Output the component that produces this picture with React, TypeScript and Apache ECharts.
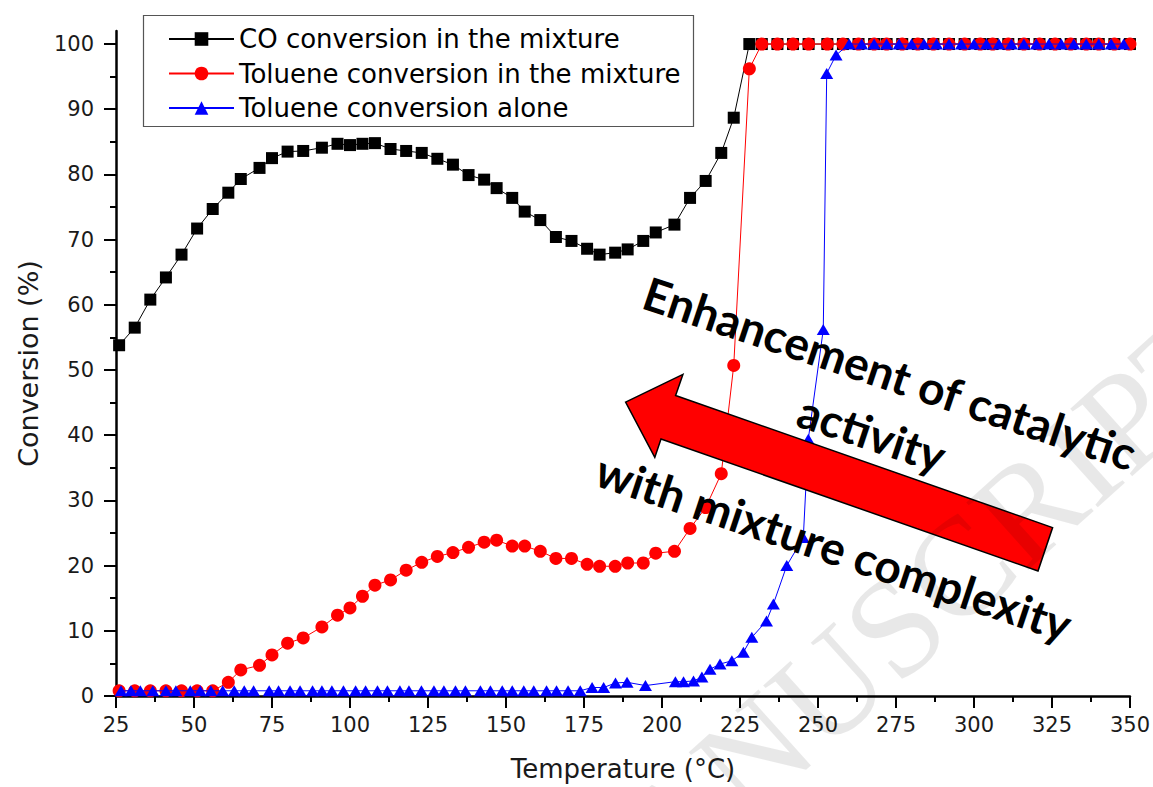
import React, { useEffect, useRef } from "react";
import * as echarts from "echarts";

// ---------------- data ----------------
const mixtureTemperatures = [
  26, 31, 36, 41, 46, 51, 56, 61, 65, 71,
  75, 80, 85, 91, 96, 100, 104, 108, 113, 118,
  123, 128, 133, 138, 143, 147, 152, 156, 161, 166,
  171, 176, 180, 185, 189, 194, 198, 204, 209, 214,
  219, 223, 228, 232, 237, 242, 247, 253, 258, 263,
  268, 272, 277, 282, 287, 292, 297, 302, 306, 311,
  316, 321, 326, 331, 336, 340, 345, 350,
];

const coConversion = [
  53.8, 56.5, 60.8, 64.2, 67.7, 71.7, 74.7, 77.2, 79.3, 81.0,
  82.5, 83.5, 83.6, 84.1, 84.7, 84.5, 84.7, 84.8, 83.9, 83.6,
  83.3, 82.4, 81.5, 79.9, 79.2, 77.9, 76.4, 74.3, 73.0, 70.4,
  69.8, 68.6, 67.7, 68.0, 68.5, 69.8, 71.1, 72.3, 76.4, 79.0,
  83.3, 88.7, 100, 100, 100, 100, 100, 100, 100, 100,
  100, 100, 100, 100, 100, 100, 100, 100, 100, 100,
  100, 100, 100, 100, 100, 100, 100, 100,
];

const tolueneMixtureConversion = [
  0.8, 0.8, 0.8, 0.8, 0.8, 0.8, 0.8, 2.1, 4.0, 4.7,
  6.3, 8.1, 8.9, 10.6, 12.4, 13.5, 15.3, 17.0, 17.8, 19.3,
  20.5, 21.4, 22.0, 22.8, 23.6, 23.9, 23.0, 23.0, 22.2, 21.1,
  21.1, 20.2, 19.9, 19.9, 20.4, 20.4, 21.9, 22.2, 25.7, 28.9,
  34.1, 50.7, 96.2, 100, 100, 100, 100, 100, 100, 100,
  100, 100, 100, 100, 100, 100, 100, 100, 100, 100,
  100, 100, 100, 100, 100, 100, 100, 100,
];

const aloneTemperatures = [
  26.6, 29.8, 32.8, 36.8, 41, 44.2, 48.8, 52, 55.4, 59.2,
  62.9, 66.1, 69.1, 74.1, 77.1, 80.8, 84, 88, 91, 94.2,
  97.9, 101.8, 105, 108.8, 112, 116, 118.9, 122.9, 126.9, 130.1,
  133.8, 137, 141.8, 145, 148.8, 152, 155.7, 158.9, 163, 166.2,
  169.9, 173.8, 177.6, 181.3, 185.1, 188.8, 194.7, 204.3, 206.9, 210.1,
  212.8, 215.4, 218.6, 222.4, 226.1, 228.8, 233.5, 235.7, 240, 245.3,
  246.9, 251.7, 252.8, 255.8, 260, 264, 268, 272, 276, 280,
  284, 288, 292, 296, 300, 304, 308, 312, 316, 320,
  324, 328, 332, 336, 340, 344, 348,
];

const tolueneAloneConversion = [
  0.8, 0.8, 0.8, 0.8, 0.8, 0.8, 0.8, 0.8, 0.8, 0.8,
  0.8, 0.8, 0.8, 0.8, 0.8, 0.8, 0.8, 0.8, 0.8, 0.8,
  0.8, 0.8, 0.8, 0.8, 0.8, 0.8, 0.8, 0.8, 0.8, 0.8,
  0.8, 0.8, 0.8, 0.8, 0.8, 0.8, 0.8, 0.8, 0.8, 0.8,
  0.8, 0.8, 1.3, 1.3, 2.0, 2.1, 1.6, 2.2, 2.2, 2.3,
  2.9, 4.1, 4.9, 5.4, 6.7, 9.0, 11.5, 14.1, 20.0, 24.3,
  39.4, 56.2, 95.5, 98.3, 100, 100, 100, 100, 100, 100,
  100, 100, 100, 100, 100, 100, 100, 100, 100, 100,
  100, 100, 100, 100, 100, 100, 100,
];

const seriesNames = [
  "CO conversion in the mixture",
  "Toluene conversion in the mixture",
  "Toluene conversion alone",
];
const yMajorTicks = [0, 10, 20, 30, 40, 50, 60, 70, 80, 90, 100];
const yMinorTicks = [5, 15, 25, 35, 45, 55, 65, 75, 85, 95];

const annotationLine1 = "Enhancement of catalytic";
const annotationLine2 = "activity";
const annotationLine3 = "with mixture complexity";
const watermarkText = "ACCEPTED MANUSCRIPT";

// ---------------- helpers ----------------
const pairs = (xs: number[], ys: number[]) => xs.map((x, i) => [x, ys[i]]);
const FONT = "'DejaVu Sans', sans-serif";
const deg = (d: number) => (d * Math.PI) / 180;

export default function App() {
  const ref = useRef<HTMLDivElement>(null);

  useEffect(() => {
    if (!ref.current) return;
    const chart = echarts.init(ref.current, null, { renderer: "svg" });

    const tickStyle = { color: "#000", width: 2 };
    const labelStyle = { fontFamily: FONT, fontSize: 21, color: "#1a1a1a" };
    const annotationFont = "bold 46px Lato, 'Open Sans', sans-serif";
    const textCommon = {
      fill: "#000",
      align: "center",
      verticalAlign: "middle",
      textAlign: "center",
      textVerticalAlign: "middle",
      font: annotationFont,
    };

    const option: any = {
      animation: false,
      backgroundColor: "#ffffff",
      grid: { left: 116, right: 23, top: 31, bottom: 90, containLabel: false },
      legend: {
        orient: "vertical",
        left: 168,
        top: 24,
        padding: 0,
        itemWidth: 65,
        itemHeight: 17,
        itemGap: 4.5,
        selectedMode: false,
        data: seriesNames,
        textStyle: { fontFamily: FONT, fontSize: 26, color: "#000", lineHeight: 30 },
      },
      xAxis: {
        type: "value",
        min: 25,
        max: 350,
        interval: 25,
        name: "Temperature (°C)",
        nameLocation: "middle",
        nameGap: 60,
        nameTextStyle: { fontFamily: FONT, fontSize: 26, color: "#1a1a1a" },
        axisLine: { onZero: false, lineStyle: { color: "#000", width: 2.5 } },
        axisTick: { length: 12, lineStyle: tickStyle },
        minorTick: { show: true, splitNumber: 2, length: 6, lineStyle: tickStyle },
        splitLine: { show: false },
        minorSplitLine: { show: false },
        axisLabel: { ...labelStyle, margin: 18 },
      },
      yAxis: [
        {
          type: "value",
          min: 0,
          max: 102,
          name: "Conversion (%)",
          nameLocation: "middle",
          nameGap: 74,
          nameTextStyle: { fontFamily: FONT, fontSize: 27, color: "#1a1a1a" },
          axisLine: { show: true, onZero: false, lineStyle: { color: "#000", width: 2.5 } },
          axisTick: { show: true, length: 12, lineStyle: tickStyle, customValues: yMajorTicks },
          axisLabel: { ...labelStyle, margin: 22, customValues: yMajorTicks },
          splitLine: { show: false },
        },
        {
          type: "value",
          min: 0,
          max: 102,
          position: "left",
          axisLine: { show: false },
          axisTick: { show: true, length: 6, lineStyle: tickStyle, customValues: yMinorTicks },
          axisLabel: { show: false },
          splitLine: { show: false },
        },
      ],
      series: [
        {
          name: seriesNames[0],
          type: "line",
          data: pairs(mixtureTemperatures, coConversion),
          symbol: "rect",
          symbolSize: 12,
          itemStyle: { color: "#000000" },
          lineStyle: { color: "#000000", width: 1 },
          z: 2,
        },
        {
          name: seriesNames[1],
          type: "line",
          data: pairs(mixtureTemperatures, tolueneMixtureConversion),
          symbol: "circle",
          symbolSize: 13,
          itemStyle: { color: "#ff0000" },
          lineStyle: { color: "#ff0000", width: 1 },
          z: 3,
        },
        {
          name: seriesNames[2],
          type: "line",
          data: pairs(aloneTemperatures, tolueneAloneConversion),
          symbol: "triangle",
          symbolSize: [13, 11],
          itemStyle: { color: "#0000ff" },
          lineStyle: { color: "#0000ff", width: 1 },
          z: 4,
        },
      ],
      graphic: [
        {
          type: "rect",
          z: 50,
          shape: { x: 143.5, y: 15.5, width: 550, height: 111 },
          style: { fill: "none", stroke: "#555", lineWidth: 1.2 },
        },
        {
          type: "polygon",
          z: 60,
          shape: {
            points: [
              [625.6, 402.2],
              [682.9, 374.4],
              [675.6, 395.5],
              [1052.6, 527.6],
              [1038, 571],
              [661, 439],
              [654.8, 457.4],
            ],
          },
          style: { fill: "#ff0000", stroke: "#000", lineWidth: 1.5 },
        },
        {
          type: "text",
          z: 61,
          x: 890,
          y: 373,
          rotation: deg(-18.5),
          style: { ...textCommon, text: annotationLine1 },
        },
        {
          type: "text",
          z: 61,
          x: 872,
          y: 433,
          rotation: deg(-18.5),
          style: { ...textCommon, text: annotationLine2 },
        },
        {
          type: "text",
          z: 61,
          x: 834,
          y: 547,
          rotation: deg(-18.5),
          style: { ...textCommon, text: annotationLine3 },
        },
        {
          type: "text",
          z: 100,
          x: 1265,
          y: 387,
          rotation: deg(42),
          silent: true,
          style: {
            text: watermarkText,
            font: "140px 'Liberation Serif', serif",
            fill: "rgba(0,0,0,0.09)",
            align: "right",
            verticalAlign: "bottom",
            textAlign: "right",
            textVerticalAlign: "bottom",
          },
        },
      ],
    };

    chart.setOption(option);
    return () => chart.dispose();
  }, []);

  return (
    <div
      ref={ref}
      style={{ position: "fixed", left: 0, top: 0, width: 1153, height: 787, background: "#fff" }}
    />
  );
}
